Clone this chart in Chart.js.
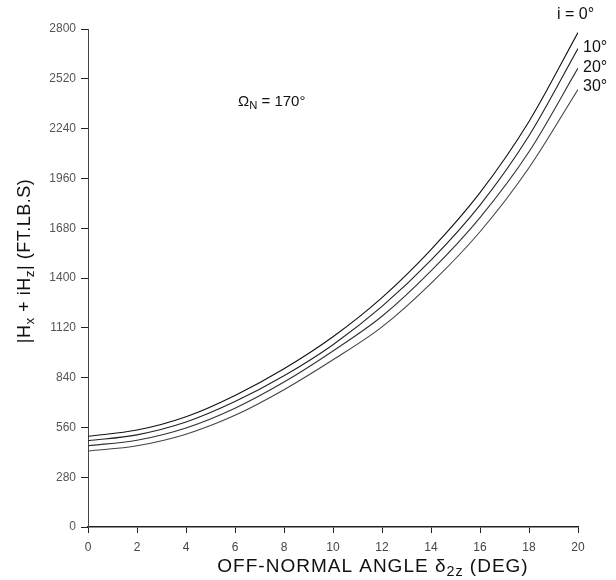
<!DOCTYPE html>
<html>
<head>
<meta charset="utf-8">
<script src="https://cdn.jsdelivr.net/npm/chart.js@4.4.1/dist/chart.umd.min.js"></script>
<style>
  html, body { margin: 0; padding: 0; background: #fff; }
  #wrap { width: 616px; height: 580px; }
</style>
</head>
<body>
<div id="wrap"><canvas id="chart" width="616" height="580"></canvas></div>
<script>
// off-normal angle (deg)
const angles = [0, 2, 4, 6, 8, 10, 12, 14, 16, 18, 20];

// |Hx + iHz| for each inclination i
const h_i0  = [510, 545, 620, 740, 890, 1070, 1290, 1560, 1880, 2280, 2780];
const h_i10 = [485, 518, 590, 705, 850, 1025, 1240, 1500, 1810, 2200, 2690];
const h_i20 = [457, 488, 557, 668, 815, 990, 1185, 1440, 1740, 2110, 2580];
const h_i30 = [427, 457, 522, 628, 772, 940, 1125, 1370, 1660, 2020, 2460];

const xTicks = [0, 2, 4, 6, 8, 10, 12, 14, 16, 18, 20];
const yTicks = [0, 280, 560, 840, 1120, 1400, 1680, 1960, 2240, 2520, 2800];

const FONT = "'Liberation Sans', Arial, sans-serif";

function pts(vals) {
    return angles.map((a, i) => ({ x: a, y: vals[i] }));
}

function line(vals, color) {
    return {
        data: pts(vals),
        borderColor: color,
        borderWidth: 1.1,
        pointRadius: 0,
        fill: false,
        cubicInterpolationMode: 'monotone'
    };
}

// text with subscripts: parts = [[text, isSub], ...]
function richWidth(ctx, parts, size) {
    let w = 0;
    parts.forEach(p => {
        ctx.font = (p[1] ? size * 0.75 : size) + 'px ' + FONT;
        w += ctx.measureText(p[0]).width;
    });
    return w;
}

function drawRich(ctx, parts, x, y, size) {
    let cx = x;
    parts.forEach(p => {
        const s = p[1] ? size * 0.75 : size;
        ctx.font = s + 'px ' + FONT;
        ctx.fillText(p[0], cx, p[1] ? y + size * 0.28 : y);
        cx += ctx.measureText(p[0]).width;
    });
}

const labelsPlugin = {
    id: 'labels',
    afterDraw(chart) {
        const ctx = chart.ctx;
        ctx.save();
        ctx.fillStyle = '#111';
        ctx.textAlign = 'left';
        ctx.textBaseline = 'middle';

        // x axis title
        ctx.letterSpacing = '1px';
        const xt = [['OFF-NORMAL ANGLE δ', false], ['2z', true], [' (DEG)', false]];
        const xw = richWidth(ctx, xt, 19);
        drawRich(ctx, xt, 373 - xw / 2, 567, 19);

        // y axis title, rotated
        ctx.letterSpacing = '0.5px';
        const yt = [['|H', false], ['x', true], [' + iH', false], ['z', true], ['| (FT.LB.S)', false]];
        const yw = richWidth(ctx, yt, 18);
        ctx.save();
        ctx.translate(25, 261);
        ctx.rotate(-Math.PI / 2);
        drawRich(ctx, yt, -yw / 2, 0, 18);
        ctx.restore();

        // annotations
        ctx.letterSpacing = '0px';
        drawRich(ctx, [['Ω', false], ['N', true], [' = 170°', false]], 238, 102, 15);
        drawRich(ctx, [['i = 0°', false]], 557, 15, 16);
        drawRich(ctx, [['10°', false]], 583, 48, 16);
        drawRich(ctx, [['20°', false]], 583, 68, 16);
        drawRich(ctx, [['30°', false]], 583, 87, 16);
        ctx.restore();
    }
};

new Chart(document.getElementById('chart').getContext('2d'), {
    type: 'line',
    data: {
        datasets: [
            line(h_i0, '#111'),
            line(h_i10, '#222'),
            line(h_i20, '#333'),
            line(h_i30, '#444')
        ]
    },
    options: {
        responsive: false,
        animation: false,
        layout: { padding: { left: 0, top: 29, right: 38, bottom: 0 } },
        plugins: {
            legend: { display: false },
            title: { display: false },
            tooltip: { enabled: false }
        },
        scales: {
            x: {
                type: 'linear',
                min: 0,
                max: 20,
                afterBuildTicks: scale => { scale.ticks = xTicks.map(v => ({ value: v })); },
                afterFit: scale => { scale.height = 53; },
                grid: { drawOnChartArea: false, drawTicks: true, tickLength: 6, color: '#222', lineWidth: 1 },
                border: { display: true, color: '#222', width: 1.5 },
                ticks: {
                    color: '#444', padding: 7, maxRotation: 0,
                    font: { family: FONT, size: 12 },
                    callback: v => String(v)
                }
            },
            y: {
                type: 'linear',
                min: 0,
                max: 2800,
                afterBuildTicks: scale => { scale.ticks = yTicks.map(v => ({ value: v })); },
                afterFit: scale => { scale.width = 88; },
                grid: { drawOnChartArea: false, drawTicks: true, tickLength: 7, color: '#222', lineWidth: 1 },
                border: { display: true, color: '#444', width: 1 },
                ticks: {
                    color: '#555', padding: 5,
                    font: { family: FONT, size: 12 },
                    callback: v => String(v)
                }
            }
        }
    },
    plugins: [labelsPlugin]
});
</script>
</body>
</html>
